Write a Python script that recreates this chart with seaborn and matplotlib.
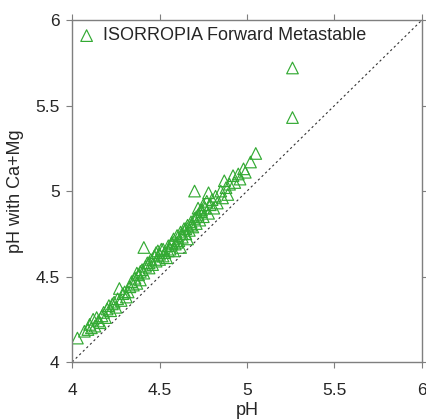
import pandas as pd
import matplotlib.pyplot as plt
import seaborn as sns

ph = [4.03, 4.07, 4.09, 4.10, 4.11, 4.12, 4.13, 4.14, 4.15, 4.17,
      4.18, 4.19, 4.20, 4.21, 4.22, 4.23, 4.24, 4.25, 4.26, 4.27,
      4.28, 4.29, 4.30, 4.31, 4.33, 4.34, 4.35, 4.36, 4.37, 4.37,
      4.38, 4.39, 4.40, 4.41, 4.41, 4.42, 4.43, 4.44, 4.45, 4.46,
      4.47, 4.48, 4.49, 4.50, 4.50, 4.51, 4.52, 4.53, 4.54, 4.55,
      4.56, 4.57, 4.58, 4.58, 4.59, 4.60, 4.61, 4.62, 4.62, 4.63,
      4.64, 4.65, 4.66, 4.66, 4.67, 4.68, 4.69, 4.70, 4.70, 4.71,
      4.72, 4.72, 4.73, 4.74, 4.75, 4.75, 4.76, 4.77, 4.78, 4.78,
      4.79, 4.80, 4.81, 4.82, 4.83, 4.85, 4.86, 4.87, 4.88, 4.89,
      4.90, 4.92, 4.93, 4.95, 4.96, 4.98, 4.99, 5.02, 5.05, 5.26,
      5.26, 4.55, 4.57, 4.60, 4.63, 4.65, 4.68, 4.71, 4.74, 4.52,
      4.48, 4.44, 4.39, 4.32, 4.16]
ph_camg = [4.14, 4.18, 4.19, 4.22, 4.20, 4.25, 4.21, 4.26, 4.24, 4.27,
           4.29, 4.26, 4.31, 4.33, 4.30, 4.34, 4.35, 4.32, 4.37, 4.43,
           4.36, 4.40, 4.41, 4.38, 4.44, 4.47, 4.45, 4.49, 4.46, 4.52,
           4.51, 4.48, 4.54, 4.67, 4.52, 4.56, 4.58, 4.55, 4.60, 4.57,
           4.62, 4.59, 4.65, 4.63, 4.60, 4.66, 4.62, 4.64, 4.61, 4.68,
           4.66, 4.70, 4.65, 4.72, 4.69, 4.74, 4.71, 4.67, 4.76, 4.73,
           4.78, 4.75, 4.72, 4.80, 4.77, 4.82, 4.79, 4.84, 5.00, 4.81,
           4.86, 4.90, 4.83, 4.88, 4.92, 4.85, 4.90, 4.94, 4.87, 4.99,
           4.92, 4.95, 4.90, 4.97, 4.93, 5.00, 4.96, 5.06, 5.02, 4.98,
           5.04, 5.09, 5.05, 5.10, 5.07, 5.13, 5.11, 5.17, 5.22, 5.72,
           5.43, 4.65, 4.69, 4.70, 4.75, 4.78, 4.80, 4.85, 4.89, 4.66,
           4.64, 4.58, 4.53, 4.41, 4.23]
label = 'ISORROPIA Forward Metastable'

df = pd.DataFrame({'pH': ph, 'pH with Ca+Mg': ph_camg})

sns.set_style('ticks')
plt.rcParams['font.family'] = ['Liberation Sans', 'DejaVu Sans']
plt.rcParams['font.size'] = 12

fig = plt.figure(figsize=(4.27, 4.19), dpi=100)
ax = fig.add_axes([0.169, 0.136, 0.819, 0.816])

ax.plot([4, 6], [4, 6], ls=(0, (2, 2.5)), color='#333333', lw=0.8, zorder=1)
sns.scatterplot(data=df, x='pH', y='pH with Ca+Mg', marker='^', s=70,
                facecolor='none', edgecolor='#33aa33', linewidth=0.85,
                label=label, ax=ax, zorder=2)

ax.set_xlim(4, 6)
ax.set_ylim(4, 6)
ax.set_xticks([4, 4.5, 5, 5.5, 6])
ax.set_yticks([4, 4.5, 5, 5.5, 6])
ax.set_xticklabels(['4', '4.5', '5', '5.5', '6'])
ax.set_yticklabels(['4', '4.5', '5', '5.5', '6'])
ax.set_xlabel('pH', fontsize=13, color='#262626', labelpad=3)
ax.set_ylabel('pH with Ca+Mg', fontsize=13, color='#262626', labelpad=8)

for sp in ax.spines.values():
    sp.set_visible(True)
    sp.set_color('#7f7f7f')
    sp.set_linewidth(1)
ax.tick_params(direction='out', length=4, color='#7f7f7f', labelsize=12.5,
               labelcolor='#262626', top=True, right=True)
ax.tick_params(axis='x', pad=11)
ax.tick_params(axis='y', pad=5)

leg = ax.legend(loc='upper left', frameon=False, fontsize=13,
                handletextpad=0.5, borderaxespad=0.0, handlelength=0.8,
                borderpad=0.4, markerscale=1.0)

fig.savefig('out.png', dpi=100)
